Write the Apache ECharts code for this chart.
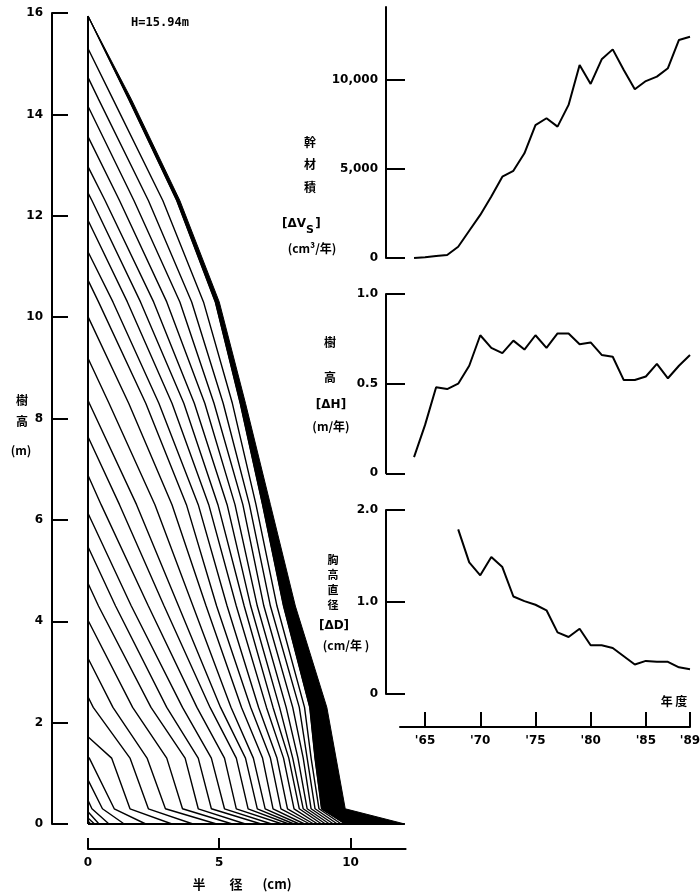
<!DOCTYPE html>
<html>
<head>
<meta charset="utf-8">
<script src="https://cdn.jsdelivr.net/npm/echarts@6/dist/echarts.min.js"></script>
<style>
  html, body { margin: 0; padding: 0; background: #fff; }
  #chart { width: 700px; height: 894px; }
</style>
</head>
<body>
<div id="chart"></div>
<script>
// ---- Stem analysis: disc heights (m) and yearly tree heights (m) ----
const discHeights = [0.0, 0.3, 1.3, 2.3, 4.3, 6.3, 8.3, 10.3, 12.3, 14.3];
const profileYears = [1962, 1963, 1964, 1965, 1966, 1967, 1968, 1969, 1970, 1971, 1972, 1973, 1974, 1975,
                      1976, 1977, 1978, 1979, 1980, 1981, 1982, 1983, 1984, 1985, 1986, 1987, 1988, 1989];
const treeHeights = [0.06, 0.12, 0.24, 0.47, 0.87, 1.33, 1.72, 2.51, 3.27, 4.02, 4.75, 5.47, 6.13, 6.88,
                     7.64, 8.36, 9.19, 10.01, 10.73, 11.29, 11.91, 12.45, 12.97, 13.56, 14.16, 14.73, 15.30, 15.94];

// ring radii (cm) on each disc, oldest ring first (last ring = 1989)
const rings00 = [0.10, 0.25, 0.42, 0.80, 1.38, 2.20, 3.20, 4.00, 4.90, 5.50, 6.00, 6.60, 7.00, 7.40,
                 7.65, 7.85, 8.05, 8.25, 8.45, 8.60, 8.75, 8.90, 9.05, 9.20, 9.35, 9.50, 9.65, 9.80];
const rings03 = [0.15, 0.55, 1.00, 1.60, 2.30, 2.95, 3.60, 4.20, 4.70, 5.20, 5.65, 6.10, 6.45, 6.75,
                 7.05, 7.35, 7.60, 7.85, 8.05, 8.20, 8.35, 8.50, 8.65, 8.80, 8.90];
const rings13 = [0.05, 0.90, 1.60, 2.25, 3.00, 3.70, 4.20, 4.70, 5.20, 5.65, 6.00, 6.30, 6.65, 6.95,
                 7.20, 7.45, 7.65, 7.80, 8.00, 8.20, 8.35, 8.50, 8.65];
const rings23 = [0.20, 0.95, 1.70, 2.40, 3.00, 3.60, 4.15, 4.65, 5.05, 5.45, 5.85, 6.20, 6.50, 6.80,
                 7.05, 7.30, 7.55, 7.80, 8.05, 8.25, 8.45];
const rings43 = [0.40, 1.05, 1.65, 2.30, 2.90, 3.45, 4.00, 4.50, 4.90, 5.30, 5.65, 5.95, 6.20, 6.45,
                 6.70, 6.95, 7.20, 7.45];
const rings63 = [0.50, 1.20, 1.85, 2.55, 3.20, 3.75, 4.20, 4.60, 4.95, 5.30, 5.60, 5.90, 6.15, 6.40, 6.65];
const rings83 = [0.05, 0.80, 1.55, 2.20, 2.70, 3.20, 3.65, 4.05, 4.45, 4.80, 5.15, 5.50, 5.80];
const rings103 = [0.40, 0.95, 1.50, 2.00, 2.50, 3.00, 3.50, 3.95, 4.40, 4.85];
const rings123 = [0.15, 0.65, 1.20, 1.75, 2.30, 2.85, 3.38];
const rings143 = [0.40, 0.95, 1.55];

// outside of the bark on each disc (cm) and final tree height
const barkRadii = [12.07, 9.80, 9.45, 9.10, 7.90, 6.95, 6.00, 5.00, 3.50, 1.65];
const finalHeight = 15.94;

// ---- Annual increments ----
const incYears = [1964, 1965, 1966, 1967, 1968, 1969, 1970, 1971, 1972, 1973, 1974, 1975, 1976,
                  1977, 1978, 1979, 1980, 1981, 1982, 1983, 1984, 1985, 1986, 1987, 1988, 1989];
const volumeInc = [0, 40, 110, 170, 635, 1530, 2420, 3450, 4570, 4900, 5880, 7470, 7850,
                   7380, 8600, 10840, 9780, 11160, 11720, 10560, 9480, 9940, 10190, 10660, 12250, 12430];
const heightInc = [0.09, 0.27, 0.48, 0.47, 0.50, 0.60, 0.77, 0.70, 0.67, 0.74, 0.69, 0.77, 0.70,
                   0.78, 0.78, 0.72, 0.73, 0.66, 0.65, 0.52, 0.52, 0.54, 0.61, 0.53, 0.60, 0.66];
const dbhYears = [1968, 1969, 1970, 1971, 1972, 1973, 1974, 1975, 1976, 1977, 1978,
                  1979, 1980, 1981, 1982, 1983, 1984, 1985, 1986, 1987, 1988, 1989];
const dbhInc = [1.79, 1.43, 1.29, 1.49, 1.38, 1.06, 1.01, 0.97, 0.91, 0.67, 0.62,
                0.71, 0.53, 0.53, 0.50, 0.41, 0.32, 0.36, 0.35, 0.35, 0.29, 0.27];

// tick labels
const radiusTicks = [0, 5, 10];
const volumeTicks = [0, 5000, 10000];
const heightIncTicks = [0, 0.5, 1.0];
const dbhIncTicks = [0, 1.0, 2.0];
const yearTicks = [1965, 1970, 1975, 1980, 1985, 1989];

// ---------------------------------------------------------------
const ringSets = [rings00, rings03, rings13, rings23, rings43, rings63, rings83, rings103, rings123, rings143];
const nYears = profileYears.length;

function profileOf(i) {
  const pts = [];
  ringSets.forEach((rings, j) => {
    const first = nYears - rings.length;
    if (i >= first) pts.push([rings[i - first], discHeights[j]]);
  });
  pts.push([0, treeHeights[i]]);
  return pts;
}

// bark outline: outside surface upward, then the last ring downward
const barkOutline = [];
discHeights.forEach((h, j) => barkOutline.push([barkRadii[j], h]));
barkOutline.push([0, finalHeight]);
for (let j = discHeights.length - 1; j >= 0; j--) {
  const rings = ringSets[j];
  barkOutline.push([rings[rings.length - 1], discHeights[j]]);
}

const BOLD = { fontFamily: 'DejaVu Sans', fontWeight: 'bold', fontSize: 12, color: '#000' };
const AX = { color: '#000', width: 2 };

const series = [];
for (let i = 0; i < nYears; i++) {
  series.push({
    type: 'line', xAxisIndex: 0, yAxisIndex: 0, data: profileOf(i),
    showSymbol: false, symbol: 'none', clip: false, silent: true,
    lineStyle: { color: '#000', width: 1.4 }
  });
}
series.push({
  type: 'custom', xAxisIndex: 0, yAxisIndex: 0, data: [[0, 0]], clip: false, silent: true,
  renderItem: (params, api) => ({
    type: 'polygon',
    shape: { points: barkOutline.map(p => api.coord(p)) },
    style: { fill: '#000', stroke: '#000', lineWidth: 1 }
  })
});
// stem axis and ground line
series.push({
  type: 'line', xAxisIndex: 0, yAxisIndex: 0, data: [[0, 0], [0, finalHeight]],
  showSymbol: false, clip: false, silent: true, lineStyle: { color: '#000', width: 2 }
});
series.push({
  type: 'line', xAxisIndex: 0, yAxisIndex: 0, data: [[0, 0], [barkRadii[0], 0]],
  showSymbol: false, clip: false, silent: true, lineStyle: { color: '#000', width: 2 }
});

function incSeries(idx, xs, ys) {
  return {
    type: 'line', xAxisIndex: idx, yAxisIndex: idx, data: xs.map((x, k) => [x, ys[k]]),
    showSymbol: false, clip: false, silent: true, lineStyle: { color: '#000', width: 2 }
  };
}
series.push(incSeries(1, incYears, volumeInc));
series.push(incSeries(2, incYears, heightInc));
series.push(incSeries(3, dbhYears, dbhInc));

function panelY(idx, max, ticks, fmt) {
  return {
    gridIndex: idx, type: 'value', min: 0, max: max,
    axisLine: { show: true, onZero: false, lineStyle: AX },
    axisTick: { show: true, inside: true, length: 19, customValues: ticks, lineStyle: AX },
    axisLabel: { customValues: ticks, margin: 8, formatter: fmt, ...BOLD },
    splitLine: { show: false }
  };
}
function hiddenX(idx, min) {
  return { gridIndex: idx, type: 'value', min: min, max: 1989, show: false, splitLine: { show: false } };
}

const oneDecimal = v => (v === 0 ? '0' : v.toFixed(1));

function vtext(chars, x, y0, step, size) {
  return chars.map((c, k) => ({
    type: 'text', x: x, y: y0 + k * step, silent: true,
    style: { text: c, fill: '#000', font: `bold ${size}px "Noto Sans CJK JP"`, align: 'center', verticalAlign: 'middle' }
  }));
}
function txt(s, x, y, size, align, family) {
  return {
    type: 'text', x: x, y: y, silent: true,
    style: { text: s, fill: '#000', font: `bold ${size}px ${family || '"Noto Sans CJK JP"'}`,
             align: align || 'center', verticalAlign: 'middle' }
  };
}

const graphics = [].concat(
  vtext(['樹', '高'], 22, 400, 21, 12),
  [txt('(m)', 21, 450, 12)],
  [txt('H=15.94m', 160, 23, 12, 'center', '"DejaVu Sans Mono"')],
  [txt('半', 199, 884, 13), txt('径', 236, 884, 13), txt('(cm)', 277, 884, 13)],
  vtext(['幹', '材', '積'], 310, 142, 22.5, 12),
  [txt('[ΔV', 306, 224, 12, 'right', '"DejaVu Sans"'),
   txt('S', 310, 230, 11, 'center', '"DejaVu Sans"'),
   txt(']', 318, 224, 12, 'center', '"DejaVu Sans"'),
   txt('(cm³/年)', 312, 248, 12)],
  vtext(['樹', '高'], 330, 342, 35, 12),
  [txt('[ΔH]', 331, 405, 12, 'center', '"DejaVu Sans"'), txt('(m/年)', 331, 426, 12)],
  vtext(['胸', '高', '直', '径'], 333, 560, 15, 11),
  [txt('[ΔD]', 334, 626, 12, 'center', '"DejaVu Sans"'), txt('(cm/年 )', 346, 645, 12)],
  [txt('年 度', 674, 701, 12)]
);

const gridBase = { outerBoundsMode: 'none', containLabel: false };
const option = {
  animation: false,
  backgroundColor: '#fff',
  grid: [
    { ...gridBase, left: 88, top: 13, width: 317.6, height: 811 },
    { ...gridBase, left: 386, top: 7, width: 304, height: 251 },
    { ...gridBase, left: 386, top: 294, width: 304, height: 179.3 },
    { ...gridBase, left: 386, top: 510, width: 304, height: 184 },
    { ...gridBase, left: 400, top: 700, width: 290, height: 27 }
  ],
  xAxis: [
    {
      gridIndex: 0, type: 'value', min: 0, max: 12.1, offset: 25, position: 'bottom',
      axisLine: { show: true, onZero: false, lineStyle: AX },
      axisTick: { show: true, inside: true, length: 11, customValues: radiusTicks, lineStyle: AX },
      axisLabel: { customValues: radiusTicks, margin: 8, ...BOLD },
      splitLine: { show: false }
    },
    hiddenX(1, 1961.46), hiddenX(2, 1961.46), hiddenX(3, 1961.46),
    {
      gridIndex: 4, type: 'value', min: 1962.73, max: 1989, position: 'bottom',
      axisLine: { show: true, onZero: false, lineStyle: AX },
      axisTick: { show: true, inside: true, length: 15, customValues: yearTicks, lineStyle: AX },
      axisLabel: { customValues: yearTicks, margin: 8, formatter: v => "'" + String(v).slice(2), ...BOLD },
      splitLine: { show: false }
    }
  ],
  yAxis: [
    {
      gridIndex: 0, type: 'value', min: 0, max: 16, interval: 2, offset: 36,
      axisLine: { show: true, onZero: false, lineStyle: AX },
      axisTick: { show: true, inside: true, length: 16, lineStyle: AX },
      axisLabel: { margin: 9, ...BOLD },
      splitLine: { show: false }
    },
    panelY(1, 14100, volumeTicks, v => v.toLocaleString('en-US')),
    panelY(2, 1.0, heightIncTicks, oneDecimal),
    panelY(3, 2.0, dbhIncTicks, oneDecimal),
    { gridIndex: 4, type: 'value', min: 0, max: 1, show: false, splitLine: { show: false } }
  ],
  series: series,
  graphic: graphics
};

const chart = echarts.init(document.getElementById('chart'));
chart.setOption(option);
</script>
</body>
</html>
